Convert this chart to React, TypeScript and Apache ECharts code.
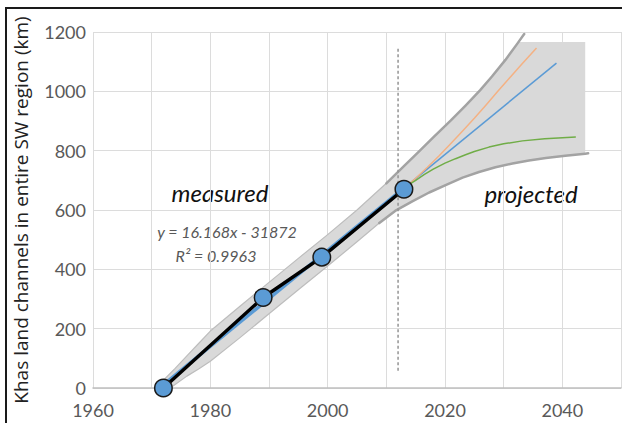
import React, { useEffect, useRef } from "react";
import * as echarts from "echarts";

// measured data
const measuredYears = [1972, 1989, 1999, 2013];
const measuredKm = [0, 305, 441, 670];

// regression line (y = 16.168x - 31872) endpoints
const regMeasured: number[][] = [[1972, 11], [2013, 674]];
const regProjected: number[][] = [[2013, 674], [2039, 1095]];

// projection curves
const orangeCurve: number[][] = [
  [2013, 672], [2015, 707], [2017, 744], [2019, 783], [2021, 824], [2023, 866], [2025, 909],
  [2027, 954], [2029, 1000], [2031, 1045], [2033, 1090], [2035.6, 1146],
];
const greenCurve: number[][] = [
  [2013, 672], [2014, 687], [2015, 700], [2016.5, 720], [2018, 738], [2020, 758], [2021.8, 773],
  [2023.5, 786], [2025, 797], [2027.5, 812], [2030, 823], [2033.2, 833], [2037, 840], [2042.3, 846],
];

// uncertainty band
const bandUpperMeasured: number[][] = [
  [1971, 0], [1971.5, 16], [1972.3, 32], [1974, 66], [1976, 108], [1978, 150], [1980, 192], [1985, 275],
  [1990, 356], [1995, 437], [2000, 517], [2005, 600], [2010, 690],
];
const bandUpperProjected: number[][] = [
  [2010, 690], [2013, 748], [2015.5, 796], [2018, 845], [2021, 902], [2023.5, 952], [2026, 1004],
  [2028, 1050], [2030.3, 1106], [2032.3, 1160], [2033.5, 1193],
];
const bandLowerMeasured: number[][] = [
  [1971, 0], [1971.8, -8], [1973, -2], [1974, 12], [1976, 40], [1978, 64], [1980, 90], [1985, 169],
  [1990, 250], [1995, 331], [2000, 411], [2005, 493], [2008.8, 556],
];
const bandLowerProjected: number[][] = [
  [2008.8, 556], [2011.5, 597], [2014.5, 630], [2017.3, 659], [2020.2, 685], [2023, 709],
  [2025.8, 728], [2028.6, 744], [2031.5, 757], [2034.3, 767], [2037.2, 775], [2040.5, 783],
  [2043.9, 790], [2044.4, 791],
];
const bandCapTop = 1166;
const bandCapRight = 2043.9;

const divideYear: number[][] = [[2012, 58], [2012, 1147]];

const FONT = "'Open Sans', 'Noto Sans', sans-serif";
const IFONT = "Lato, 'Noto Sans', sans-serif";

export default function App() {
  const ref = useRef<HTMLDivElement>(null);
  useEffect(() => {
    document.body.style.margin = "0";
    if (!ref.current) return;
    const chart = echarts.init(ref.current, undefined, { renderer: "svg" });

    const upperFill = [...bandUpperMeasured, ...bandUpperProjected.slice(1, -1)];
    const lowerFill = [...bandLowerMeasured, ...bandLowerProjected.slice(1, -1)];
    const polygon = [
      ...upperFill,
      [2032.6, bandCapTop],
      [bandCapRight, bandCapTop],
      [bandCapRight, lowerFill[lowerFill.length - 1][1]],
      ...lowerFill.slice().reverse(),
    ];

    const edge = (data: number[][], color: string, width: number, z: number) => ({
      type: "line",
      data,
      symbol: "none",
      smooth: false,
      lineStyle: { color, width, join: "round", cap: "round" },
      z,
      silent: true,
    });

    chart.setOption({
      animation: false,
      textStyle: { fontFamily: FONT },
      grid: { left: 93, right: 1, top: 32, bottom: 35, containLabel: false },
      xAxis: {
        type: "value",
        min: 1960,
        max: 2050,
        interval: 10,
        axisLine: { show: true, lineStyle: { color: "#bfbfbf", width: 1.5 } },
        axisTick: { show: false },
        splitLine: { show: true, lineStyle: { color: "#dcdcdc", width: 1 } },
        axisLabel: {
          fontSize: 18,
          lineHeight: 14,
          color: "#595959",
          fontFamily: IFONT,
          margin: 15,
          showMaxLabel: false,
          formatter: (v: number) => (v % 20 === 0 ? String(v) : ""),
        },
      },
      yAxis: {
        type: "value",
        min: 0,
        max: 1200,
        interval: 200,
        name: "Khas land channels in entire SW region (km)",
        nameLocation: "middle",
        nameGap: 63,
        nameTextStyle: { fontSize: 19, color: "#222", fontFamily: FONT },
        axisLine: { show: false },
        axisTick: { show: false },
        splitLine: { show: true, lineStyle: { color: "#dcdcdc", width: 1 } },
        axisLabel: {
          fontSize: 18,
          lineHeight: 12,
          color: "#595959",
          fontFamily: IFONT,
          margin: 7,
          formatter: (v: number) => String(v),
        },
      },
      series: [
        {
          type: "custom",
          silent: true,
          z: 1,
          data: [[2000, 500]],
          renderItem: (_p: any, api: any) => ({
            type: "polygon",
            shape: { points: polygon.map((p) => api.coord(p)) },
            style: { fill: "#d9d9d9", stroke: "none" },
          }),
        },
        edge(bandUpperMeasured, "#bdbdbd", 1.2, 2),
        edge(bandLowerMeasured, "#bdbdbd", 1.2, 2),
        edge(bandUpperProjected, "#a3a3a3", 2.5, 2),
        edge(bandLowerProjected, "#a3a3a3", 2.5, 2),
        {
          type: "line",
          data: divideYear,
          symbol: "none",
          lineStyle: { color: "#939393", width: 1.5, type: [3, 2.5] },
          z: 2,
          silent: true,
        },
        {
          type: "line",
          data: regMeasured,
          symbol: "none",
          lineStyle: { color: "#5b9bd5", width: 3.5 },
          z: 3,
          silent: true,
        },
        {
          type: "line",
          data: regProjected,
          symbol: "none",
          lineStyle: { color: "#5b9bd5", width: 1.5 },
          z: 3,
          silent: true,
        },
        {
          type: "line",
          data: orangeCurve,
          symbol: "none",
          smooth: false,
          lineStyle: { color: "#f4b183", width: 1.5, join: "round" },
          z: 3,
          silent: true,
        },
        {
          type: "line",
          data: greenCurve,
          symbol: "none",
          smooth: false,
          lineStyle: { color: "#70ad47", width: 1.5, join: "round" },
          z: 3,
          silent: true,
        },
        {
          type: "line",
          data: measuredYears.map((y, i) => [y, measuredKm[i]]),
          symbol: "circle",
          symbolSize: 17.5,
          lineStyle: { color: "#000", width: 3.5 },
          itemStyle: { color: "#5b9bd5", borderColor: "#1a1a1a", borderWidth: 1.5 },
          z: 5,
          silent: true,
        },
      ],
      graphic: [
        {
          type: "rect",
          shape: { x: 6, y: 8, width: 700, height: 500 },
          style: { fill: "none", stroke: "#1a1a1a", lineWidth: 2 },
          silent: true,
        },
        {
          type: "text",
          x: 220,
          y: 192,
          style: {
            text: "measured",
            font: `italic 24px ${IFONT}`,
            fill: "#111",
            align: "center",
            verticalAlign: "middle",
          },
        },
        {
          type: "text",
          x: 531,
          y: 193,
          style: {
            text: "projected",
            font: `italic 24px ${IFONT}`,
            fill: "#111",
            align: "center",
            verticalAlign: "middle",
          },
        },
        {
          type: "text",
          x: 513,
          y: 127,
          style: {
            text: "?",
            font: `22px ${FONT}`,
            fill: "#111",
            align: "center",
            verticalAlign: "middle",
          },
        },
        {
          type: "text",
          x: 227,
          y: 231,
          style: {
            text: "y = 16.168x - 31872",
            font: `italic 16px ${IFONT}`,
            fill: "#595959",
            align: "center",
            verticalAlign: "middle",
          },
        },
        {
          type: "text",
          x: 216,
          y: 255,
          style: {
            text: "R² = 0.9963",
            font: `italic 16px ${IFONT}`,
            fill: "#595959",
            align: "center",
            verticalAlign: "middle",
          },
        },
      ],
    });
    return () => chart.dispose();
  }, []);
  return (
    <div
      ref={ref}
      style={{ position: "absolute", left: 0, top: 0, width: 622, height: 423 }}
    />
  );
}
